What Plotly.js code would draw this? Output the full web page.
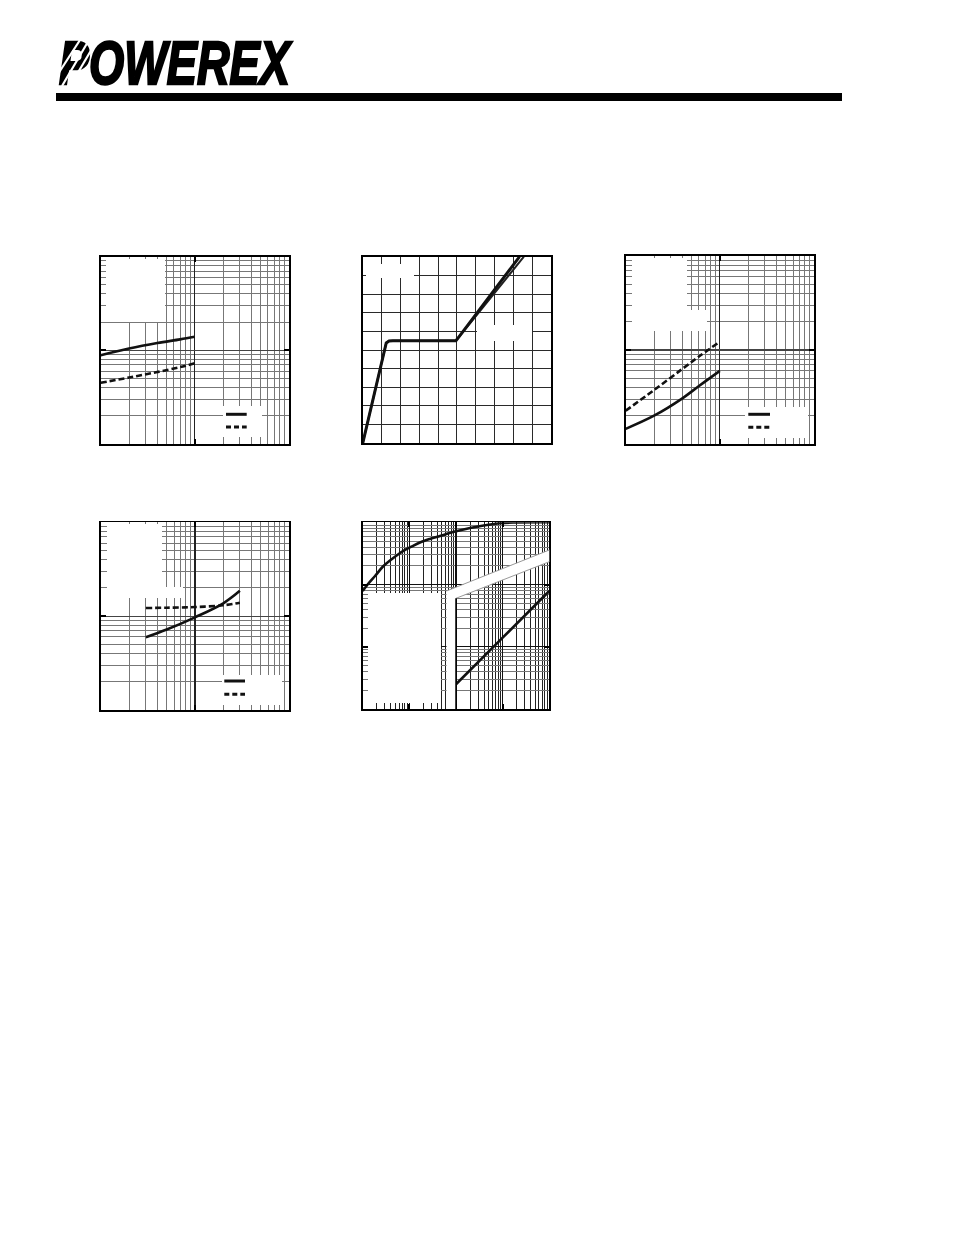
<!DOCTYPE html>
<html><head><meta charset="utf-8">
<script src="https://cdn.plot.ly/plotly-3.0.1.min.js"></script>
<style>
html,body{margin:0;padding:0;background:#fff;}
#wrap{position:relative;width:954px;height:1235px;overflow:hidden;}
#chart{position:absolute;left:0;top:0;width:954px;height:1235px;}
#logo{position:absolute;left:59px;top:33px;font-family:'Liberation Sans',Arial,sans-serif;font-weight:bold;font-style:italic;font-size:61px;line-height:1;color:#000;transform:scaleX(0.74);transform-origin:0 0;white-space:nowrap;-webkit-text-stroke:2.4px #000;letter-spacing:0px;}
#stripes{position:absolute;left:0;top:0;width:954px;height:120px;pointer-events:none;}
</style></head>
<body><div id="wrap"><div id="chart"></div><div id="logo">POWEREX</div>
<svg id="stripes" width="954" height="120"><g stroke="#fff" stroke-width="2.2">
<line x1="58" y1="74" x2="80" y2="40"/><line x1="62" y1="86" x2="89" y2="40"/><line x1="70" y1="86" x2="96" y2="42"/>
</g></svg></div>
<script>
const W = 954, H = 1235;

// ---------------- data ----------------
// chart 1 (top-left, log-log)
const c1X     = [1, 2, 4, 7, 10];
const c1Solid = [8.84, 10.45, 11.97, 13.1, 13.97];
const c1Dash  = [4.51, 5.12, 5.87, 6.63, 7.27];
// chart 2 (top-middle, linear) - gate charge
const c2XA = [0, 1.15, 1.25, 1.4, 1.6, 4.95, 5.12, 8.33];
const c2YA = [0, 5.1, 5.38, 5.48, 5.5, 5.5, 5.72, 10];
const c2XB = [0, 1.15, 1.25, 1.4, 1.6, 4.95, 5.12, 8.56];
const c2YB = [0, 5.1, 5.38, 5.48, 5.5, 5.5, 5.7, 10];
// chart 3 (top-right, log-log)
const c3X     = [10, 20, 40, 60, 100];
const c3Solid = [1.45, 2.0, 3.06, 4.14, 6.0];
const c3Dash  = [2.26, 3.75, 6.3, 8.53, 12.25];
// chart 4 (bottom-left, log-log)
const c4X     = [3, 5, 10, 20, 30];
const c4Solid = [5.95, 7.2, 9.72, 13.7, 18.6];
const c4Dash  = [12.2, 12.3, 12.5, 13.05, 13.9];
// chart 5 (bottom-middle, transient thermal impedance)
const c5UpperT = [0.001, 0.0013, 0.00184, 0.00272, 0.00385, 0.00571, 0.00807, 0.0114, 0.0169, 0.0277, 0.0454, 0.0953, 0.2, 0.419, 0.877, 1.84, 10];
const c5UpperZ = [0.0787, 0.102, 0.137, 0.195, 0.243, 0.304, 0.359, 0.411, 0.474, 0.540, 0.603, 0.711, 0.811, 0.896, 0.968, 0.993, 1.0];
const c5LowerT = [1e-5, 1e-4, 1e-3];
const c5LowerZ = [0.0025, 0.014, 0.0787];

// ---------------- helpers ----------------
const dx = (a, b) => [a / W, b / W];
const dy = (top, bot) => [1 - bot / H, 1 - top / H];

function logAxis(dom, rng, anchor, minorColor, majorColor) {
  const majors = [], minors = [];
  for (let e = rng[0]; e <= rng[1]; e++) {
    majors.push(Math.pow(10, e));
    if (e < rng[1]) for (let m = 2; m <= 9; m++) minors.push(m * Math.pow(10, e));
  }
  return {
    type: 'log', domain: dom, range: rng, anchor: anchor,
    tickmode: 'array', tickvals: majors, showticklabels: false,
    ticks: 'inside', ticklen: 5, tickwidth: 2, tickcolor: '#000',
    showgrid: true, gridcolor: majorColor, gridwidth: 1.3,
    showline: true, linecolor: '#000', linewidth: 1.8, mirror: 'ticks',
    zeroline: false, fixedrange: true,
    minor: {tickmode: 'array', tickvals: minors, showgrid: true, gridcolor: minorColor, gridwidth: 1, ticks: ''}
  };
}
function linAxis(dom, anchor) {
  return {
    type: 'linear', domain: dom, range: [0, 10], anchor: anchor,
    tickmode: 'linear', tick0: 0, dtick: 1, showticklabels: false, ticks: '',
    showgrid: true, gridcolor: '#2a2a2a', gridwidth: 1,
    showline: true, linecolor: '#000', linewidth: 1.8, mirror: true,
    zeroline: false, fixedrange: true
  };
}
function rectPx(x0, y0, x1, y1, fill) {
  return {type: 'rect', xref: 'paper', yref: 'paper', x0: x0 / W, x1: x1 / W, y0: 1 - y1 / H, y1: 1 - y0 / H,
          fillcolor: fill || '#fff', line: {width: 0}, layer: 'above'};
}
function linePx(x0, y0, x1, y1, color, width, dash) {
  return {type: 'line', xref: 'paper', yref: 'paper', x0: x0 / W, x1: x1 / W, y0: 1 - y0 / H, y1: 1 - y1 / H,
          line: {color: color, width: width, dash: dash || 'solid'}, layer: 'above'};
}
function pathPx(pts, fill) {
  const d = pts.map((p, i) => (i ? 'L' : 'M') + (p[0] / W).toFixed(5) + ',' + (1 - p[1] / H).toFixed(5)).join(' ') + ' Z';
  return {type: 'path', xref: 'paper', yref: 'paper', path: d, fillcolor: fill, line: {width: 0}, layer: 'above'};
}

// ---------------- layout ----------------
const layout = {
  width: W, height: H, margin: {l: 0, r: 0, t: 0, b: 0},
  paper_bgcolor: '#fff', plot_bgcolor: '#fff', showlegend: false,
  xaxis:  logAxis(dx(100.7, 288.7), [0, 2], 'y',  '#777', '#222'),
  yaxis:  logAxis(dy(256.7, 444),   [0, 2], 'x',  '#777', '#444'),
  xaxis2: linAxis(dx(362.7, 551),   'y2'),
  yaxis2: linAxis(dy(256.7, 443.3), 'x2'),
  xaxis3: logAxis(dx(625.7, 814),   [1, 3], 'y3', '#777', '#222'),
  yaxis3: logAxis(dy(256, 444),     [0, 2], 'x3', '#777', '#444'),
  xaxis4: logAxis(dx(101, 289),     [0, 2], 'y4', '#777', '#222'),
  yaxis4: logAxis(dy(522.3, 710),   [0, 2], 'x4', '#777', '#444'),
  xaxis5: logAxis(dx(362.7, 549.3), [-3, 1], 'y5', '#222', '#111'),
  yaxis5: logAxis(dy(522.3, 709),   [-3, 0], 'x5', '#777', '#111'),
  xaxis6: {type: 'log', domain: dx(362.7, 549.3), range: [-7, -3], overlaying: 'x5', anchor: 'y5',
           showgrid: false, showticklabels: false, ticks: '', showline: false, zeroline: false, fixedrange: true},
  shapes: [
    rectPx(56, 93, 842, 101, '#000'),
    // chart 1 text areas
    rectPx(106, 259, 165, 322), rectPx(223, 406, 262, 437),
    // chart 2 text areas
    rectPx(366, 264, 414, 278), rectPx(477, 325, 532, 341),
    // chart 3 text areas
    rectPx(632, 258, 687, 310), rectPx(632, 310, 707, 331), rectPx(745, 407, 808, 438),
    // chart 4 text areas
    rectPx(107, 524, 162, 587), rectPx(107, 587, 183, 598), rectPx(222, 675, 282, 705),
    // chart 5 text area and break band
    rectPx(368, 593, 441, 703),
    pathPx([[446.5, 591], [549.3, 550], [549.3, 561.7], [456, 598.3], [456, 709], [446.5, 709]], '#fff'),
    linePx(446.5, 591, 549.3, 550, '#999', 1),
    linePx(456, 598.3, 549.3, 561.7, '#999', 1),
    linePx(456, 598.3, 456, 709, '#000', 1.5),
    // legend samples
    linePx(226, 414.3, 246.7, 414.3, '#111', 3), linePx(226, 427, 246.7, 427, '#111', 3, '5px,3px'),
    linePx(748.3, 414.3, 770, 414.3, '#111', 3), linePx(748.3, 427.3, 770, 427.3, '#111', 3, '5px,3px'),
    linePx(224.3, 681, 245, 681, '#111', 3), linePx(224.3, 694.3, 245, 694.3, '#111', 3, '5px,3px')
  ]
};

const solid = {color: '#111', width: 2.6, shape: 'spline'};
const dashed = {color: '#111', width: 2.6, dash: '6px,3px', shape: 'spline'};
const data = [
  {x: c1X, y: c1Solid, xaxis: 'x', yaxis: 'y', mode: 'lines', line: solid},
  {x: c1X, y: c1Dash,  xaxis: 'x', yaxis: 'y', mode: 'lines', line: dashed},
  {x: c2XB, y: c2YB, xaxis: 'x2', yaxis: 'y2', mode: 'lines', line: {color: '#222', width: 2}},
  {x: c2XA, y: c2YA, xaxis: 'x2', yaxis: 'y2', mode: 'lines', line: {color: '#111', width: 3}},
  {x: c3X, y: c3Solid, xaxis: 'x3', yaxis: 'y3', mode: 'lines', line: solid},
  {x: c3X, y: c3Dash,  xaxis: 'x3', yaxis: 'y3', mode: 'lines', line: dashed},
  {x: c4X, y: c4Solid, xaxis: 'x4', yaxis: 'y4', mode: 'lines', line: solid},
  {x: c4X, y: c4Dash,  xaxis: 'x4', yaxis: 'y4', mode: 'lines', line: dashed},
  {x: c5UpperT, y: c5UpperZ, xaxis: 'x5', yaxis: 'y5', mode: 'lines', line: solid},
  {x: c5LowerT, y: c5LowerZ, xaxis: 'x6', yaxis: 'y5', mode: 'lines', line: solid}
];

Plotly.newPlot('chart', data, layout, {staticPlot: true, displayModeBar: false});
</script></body></html>
